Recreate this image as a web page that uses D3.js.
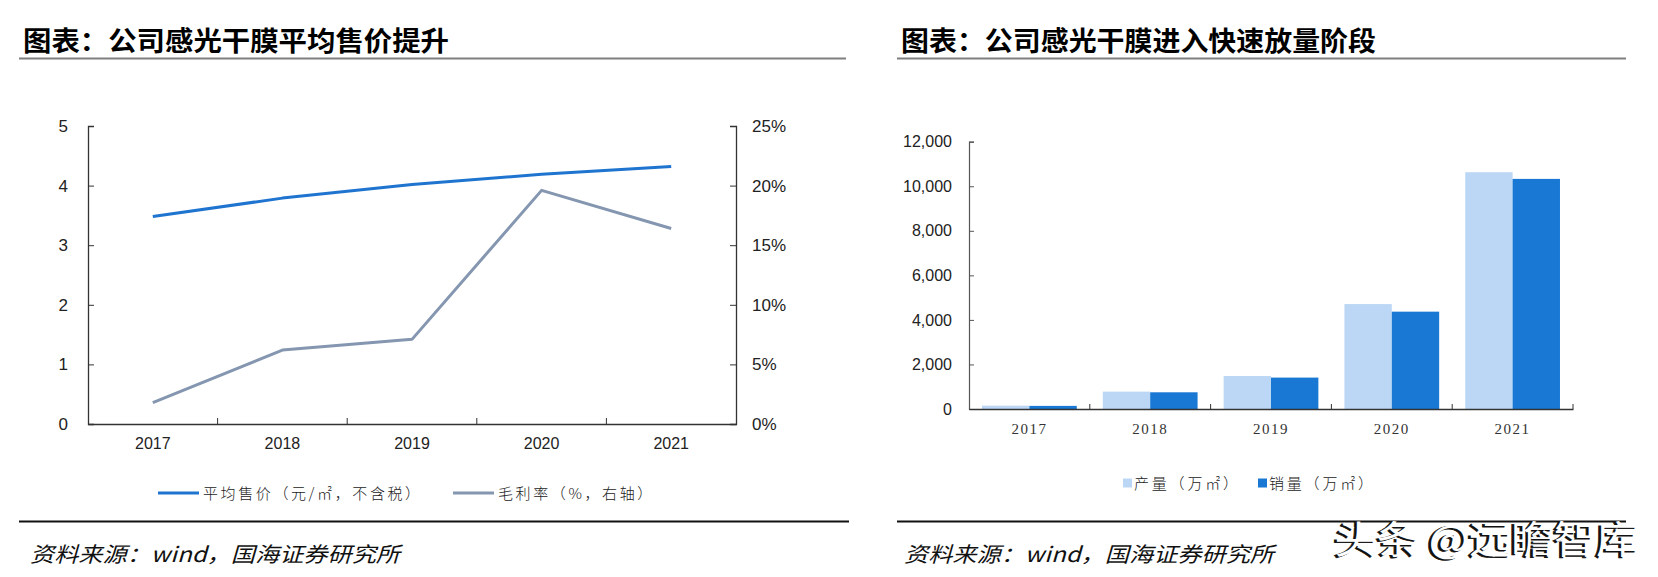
<!DOCTYPE html>
<html>
<head>
<meta charset="utf-8">
<script src="https://cdn.jsdelivr.net/npm/d3@7"></script>
<style>
  html, body { margin: 0; padding: 0; background: #fff; }
  svg { display: block; }
</style>
</head>
<body>
<svg id="chart" width="1658" height="577"></svg>
<script>
// ---------- data ----------
const years = ["2017", "2018", "2019", "2020", "2021"];
const avgPrice = [3.48, 3.79, 4.02, 4.19, 4.32];          // 元/㎡, left axis
const grossMargin = [1.8, 6.2, 7.1, 19.6, 16.4];          // %, right axis
const production = [150, 780, 1480, 4710, 10630];          // 万㎡
const sales = [140, 750, 1410, 4370, 10330];               // 万㎡
const leftTicks = [0, 1, 2, 3, 4, 5];
const rightTicks = [0, 5, 10, 15, 20, 25];
const barTicks = [0, 2000, 4000, 6000, 8000, 10000, 12000];

const titleLeft = "图表：公司感光干膜平均售价提升";
const titleRight = "图表：公司感光干膜进入快速放量阶段";
const legendLeft = ["平均售价（元/㎡，不含税）", "毛利率（%，右轴）"];
const legendRight = ["产量（万㎡）", "销量（万㎡）"];
const source = "资料来源：wind，国海证券研究所";
const watermark = "头条 @远瞻智库";

// ---------- styles ----------
const C_BLUE = "#1f74cf", C_GRAY = "#8496b0";
const C_LIGHT = "#bbd7f5", C_DARK = "#1878d4";
const CJK = "'Noto Sans CJK SC', 'Noto Sans', sans-serif";
const NUM = "'Liberation Sans', Arial, sans-serif";
const SERIF = "'Liberation Serif', 'Times New Roman', serif";

const svg = d3.select("#chart");

// ---------- titles, rules, sources ----------
function header(x, text, w, x1, x2) {
  svg.append("text").attr("x", x).attr("y", 51)
    .attr("font-family", CJK).attr("font-weight", 700).attr("font-size", 27)
    .attr("fill", "#000").attr("textLength", w).attr("lengthAdjust", "spacingAndGlyphs")
    .text(text);
  svg.append("line").attr("x1", x1).attr("x2", x2).attr("y1", 58.5).attr("y2", 58.5)
    .attr("stroke", "#7f7f7f").attr("stroke-width", 2);
}
header(23, titleLeft, 426, 19, 846);
header(901, titleRight, 475, 897, 1626);

function footer(x, x1, x2) {
  svg.append("line").attr("x1", x1).attr("x2", x2).attr("y1", 521.5).attr("y2", 521.5)
    .attr("stroke", "#111").attr("stroke-width", 1.8);
  svg.append("text").attr("x", x).attr("y", 562)
    .attr("font-family", CJK).attr("font-style", "italic").attr("font-size", 21)
    .attr("fill", "#111").attr("textLength", 370).attr("lengthAdjust", "spacingAndGlyphs")
    .text(source);
}
footer(30, 19, 849);
footer(904, 897, 1626);

// ---------- left chart: lines ----------
const L = { x0: 88, x1: 736, y0: 424, yTop: 126 };
const xL = d3.scaleBand().domain(years).range([L.x0, L.x1]).padding(0);
const yL = d3.scaleLinear().domain([0, 5]).range([L.y0, L.yTop]);
const yR = d3.scaleLinear().domain([0, 25]).range([L.y0, L.yTop]);
const cx = d => xL(d) + xL.bandwidth() / 2;

const gl = svg.append("g");
const axL = gl.append("g").attr("transform", `translate(${L.x0},0)`)
  .call(d3.axisLeft(yL).tickValues(leftTicks).tickSize(-6).tickPadding(20).tickFormat(d3.format("d")));
const axR = gl.append("g").attr("transform", `translate(${L.x1},0)`)
  .call(d3.axisRight(yR).tickValues(rightTicks).tickSize(-6).tickPadding(16).tickFormat(d => d + "%"));
[axL, axR].forEach(a => {
  a.select(".domain").attr("stroke", "#333").attr("stroke-width", 1.3);
  a.selectAll(".tick line").attr("stroke", "#333");
  a.selectAll("text").attr("font-family", NUM).attr("font-size", 17).attr("fill", "#222");
});
const axB = gl.append("g").attr("transform", `translate(0,${L.y0})`)
  .call(d3.axisBottom(xL).tickSize(0).tickPadding(14));
axB.select(".domain").attr("stroke", "#333").attr("stroke-width", 1.3);
axB.selectAll("text").attr("font-family", NUM).attr("font-size", 16).attr("fill", "#222");
gl.selectAll(".xtickL").data(years.slice(1)).enter().append("line")
  .attr("x1", d => xL(d)).attr("x2", d => xL(d))
  .attr("y1", L.y0).attr("y2", L.y0 - 6).attr("stroke", "#333");

const lineL = d3.line().x((d, i) => cx(years[i])).y(d => yL(d));
const lineR = d3.line().x((d, i) => cx(years[i])).y(d => yR(d));
gl.append("path").datum(grossMargin).attr("d", lineR).attr("fill", "none")
  .attr("stroke", C_GRAY).attr("stroke-width", 3).attr("stroke-linejoin", "round");
gl.append("path").datum(avgPrice).attr("d", lineL).attr("fill", "none")
  .attr("stroke", C_BLUE).attr("stroke-width", 3).attr("stroke-linejoin", "round");

// left legend
const legL = [
  { label: legendLeft[0], color: C_BLUE, x: 158 },
  { label: legendLeft[1], color: C_GRAY, x: 453 }
];
legL.forEach(l => {
  svg.append("line").attr("x1", l.x).attr("x2", l.x + 41).attr("y1", 493).attr("y2", 493)
    .attr("stroke", l.color).attr("stroke-width", 3);
  svg.append("text").attr("x", l.x + 45).attr("y", 498.5)
    .attr("font-family", CJK).attr("font-weight", 300).attr("font-size", 15)
    .attr("letter-spacing", 2.6).attr("fill", "#222").text(l.label);
});

// ---------- right chart: bars ----------
const R = { x0: 969, x1: 1573, y0: 409, yTop: 141.7 };
const series = ["production", "sales"];
const seriesVals = { production, sales };
const seriesCol = { production: C_LIGHT, sales: C_DARK };
const xB = d3.scaleBand().domain(years).range([R.x0, R.x1]).padding(0);
const xS = d3.scaleBand().domain(series).range([0, xB.bandwidth()]).paddingInner(0).paddingOuter(0.275);
const yB = d3.scaleLinear().domain([0, 12000]).range([R.y0, R.yTop]);

const gr = svg.append("g");
series.forEach(s => {
  gr.selectAll(".bar-" + s).data(years).enter().append("rect")
    .attr("x", d => xB(d) + xS(s)).attr("width", xS.bandwidth())
    .attr("y", (d, i) => yB(seriesVals[s][i]))
    .attr("height", (d, i) => R.y0 - yB(seriesVals[s][i]))
    .attr("fill", seriesCol[s]);
});
const axBY = gr.append("g").attr("transform", `translate(${R.x0},0)`)
  .call(d3.axisLeft(yB).tickValues(barTicks).tickSize(-5).tickPadding(17).tickFormat(d3.format(",")));
axBY.select(".domain").attr("stroke", "#555").attr("stroke-width", 1.2);
axBY.selectAll(".tick line").attr("stroke", "#555");
axBY.selectAll("text").attr("font-family", NUM).attr("font-size", 16).attr("fill", "#222");
const axBX = gr.append("g").attr("transform", `translate(0,${R.y0})`)
  .call(d3.axisBottom(xB).tickSize(0).tickPadding(14));
axBX.select(".domain").attr("stroke", "#333").attr("stroke-width", 1.3);
axBX.selectAll("text").attr("font-family", SERIF).attr("font-size", 15)
  .attr("letter-spacing", 1.5).attr("fill", "#333");
gr.selectAll(".xtickB").data(years.slice(1).concat(["end"])).enter().append("line")
  .attr("x1", d => d === "end" ? R.x1 : xB(d)).attr("x2", d => d === "end" ? R.x1 : xB(d))
  .attr("y1", R.y0).attr("y2", R.y0 - 5).attr("stroke", "#333");

// right legend
const legR = [
  { label: legendRight[0], color: C_LIGHT, x: 1123 },
  { label: legendRight[1], color: C_DARK, x: 1258 }
];
legR.forEach(l => {
  svg.append("rect").attr("x", l.x).attr("y", 478.5).attr("width", 9).attr("height", 9).attr("fill", l.color);
  svg.append("text").attr("x", l.x + 11).attr("y", 488.5)
    .attr("font-family", CJK).attr("font-weight", 300).attr("font-size", 15)
    .attr("letter-spacing", 2.8).attr("fill", "#222").text(l.label);
});

// ---------- watermark ----------
svg.append("text").attr("x", 1332).attr("y", 553.5)
  .attr("font-family", CJK).attr("font-size", 38).attr("fill", "#111")
  .attr("stroke", "#111").attr("stroke-width", 0.8)
  .attr("textLength", 304).attr("lengthAdjust", "spacingAndGlyphs").text(watermark);
svg.append("text").attr("x", 1334.5).attr("y", 552.5)
  .attr("font-family", CJK).attr("font-size", 38).attr("fill", "#fff")
  .attr("textLength", 304).attr("lengthAdjust", "spacingAndGlyphs").text(watermark);
</script>
</body>
</html>
